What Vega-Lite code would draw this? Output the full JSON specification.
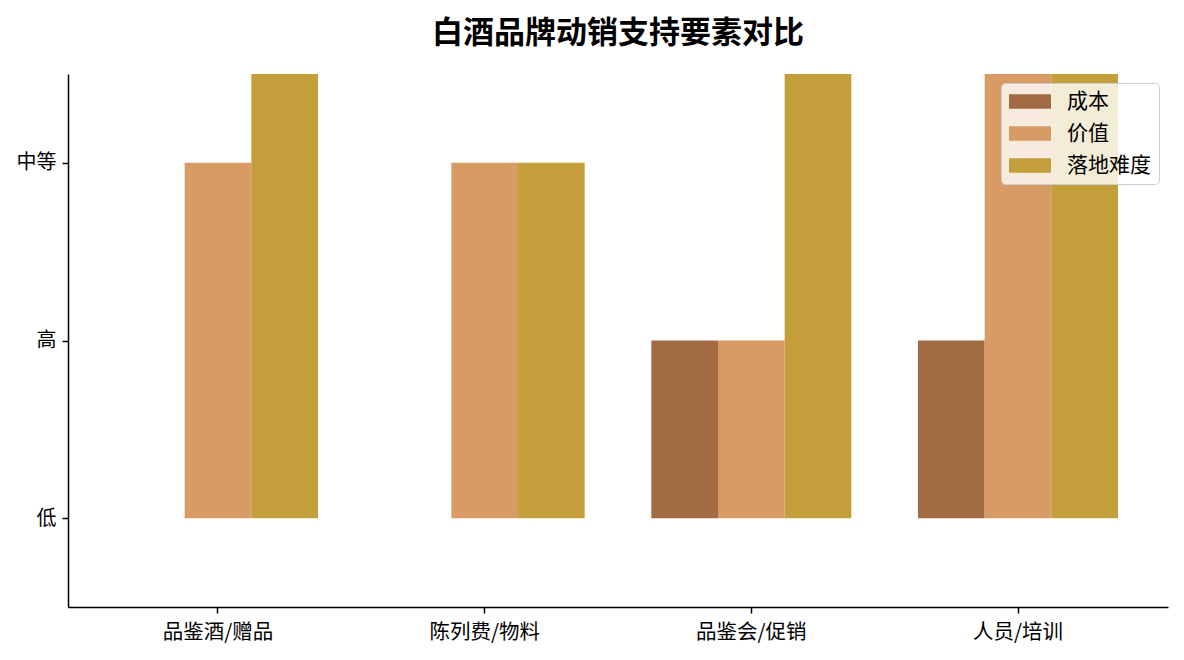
{
  "$schema": "https://vega.github.io/schema/vega-lite/v6.json",
  "width": 1100,
  "height": 533,
  "autosize": {"type": "none"},
  "padding": {"left": 68, "top": 74, "right": 16, "bottom": 53},
  "background": "white",
  "title": {
    "text": "白酒品牌动销支持要素对比",
    "fontSize": 31,
    "fontWeight": "bold",
    "font": "Noto Sans CJK SC",
    "color": "black",
    "anchor": "middle",
    "offset": 24
  },
  "config": {
    "font": "Noto Sans CJK SC",
    "view": {"stroke": null}
  },
  "data": {
    "values": [
      {"item": "品鉴酒/赠品", "factor": "成本", "level": 0},
      {"item": "品鉴酒/赠品", "factor": "价值", "level": 2},
      {"item": "品鉴酒/赠品", "factor": "落地难度", "level": 3},
      {"item": "陈列费/物料", "factor": "成本", "level": 0},
      {"item": "陈列费/物料", "factor": "价值", "level": 2},
      {"item": "陈列费/物料", "factor": "落地难度", "level": 2},
      {"item": "品鉴会/促销", "factor": "成本", "level": 1},
      {"item": "品鉴会/促销", "factor": "价值", "level": 1},
      {"item": "品鉴会/促销", "factor": "落地难度", "level": 3},
      {"item": "人员/培训", "factor": "成本", "level": 1},
      {"item": "人员/培训", "factor": "价值", "level": 3},
      {"item": "人员/培训", "factor": "落地难度", "level": 3}
    ]
  },
  "mark": {"type": "bar", "clip": true},
  "encoding": {
    "x": {
      "field": "item",
      "type": "nominal",
      "sort": ["品鉴酒/赠品", "陈列费/物料", "品鉴会/促销", "人员/培训"],
      "scale": {"paddingInner": 0.25, "paddingOuter": 0.1875},
      "axis": {
        "title": null,
        "labelAngle": 0,
        "labelFontSize": 20.5,
        "labelColor": "black",
        "domainColor": "black",
        "domainWidth": 1.5,
        "tickColor": "black",
        "tickWidth": 1.5,
        "tickSize": 6,
        "labelPadding": 9
      }
    },
    "xOffset": {
      "field": "factor",
      "type": "nominal",
      "sort": ["成本", "价值", "落地难度"],
      "scale": {"paddingInner": 0, "paddingOuter": 0}
    },
    "y": {
      "field": "level",
      "type": "quantitative",
      "scale": {"domain": [-0.5, 2.5], "nice": false, "zero": false},
      "axis": {
        "title": null,
        "values": [0, 1, 2],
        "labelExpr": "datum.value == 0 ? '低' : datum.value == 1 ? '高' : '中等'",
        "labelFontSize": 20,
        "labelColor": "black",
        "grid": false,
        "domainColor": "black",
        "domainWidth": 1.5,
        "tickColor": "black",
        "tickWidth": 1.5,
        "tickSize": 6,
        "labelPadding": 6
      }
    },
    "y2": {"datum": 0},
    "color": {
      "field": "factor",
      "type": "nominal",
      "sort": ["成本", "价值", "落地难度"],
      "scale": {
        "domain": ["成本", "价值", "落地难度"],
        "range": ["#a36b43", "#d89b65", "#c49e3a"]
      },
      "legend": {
        "title": null,
        "orient": "top-right",
        "offset": 9,
        "symbolType": "M-1,-0.7H3V0.7H-1Z",
        "symbolSize": 441,
        "symbolStrokeWidth": 0,
        "symbolOpacity": 1,
        "labelFontSize": 21,
        "labelColor": "black",
        "labelOffset": 37,
        "rowPadding": 10,
        "padding": 8,
        "fillColor": "rgba(255,255,255,0.8)",
        "strokeColor": "#cccccc",
        "cornerRadius": 4
      }
    }
  }
}
